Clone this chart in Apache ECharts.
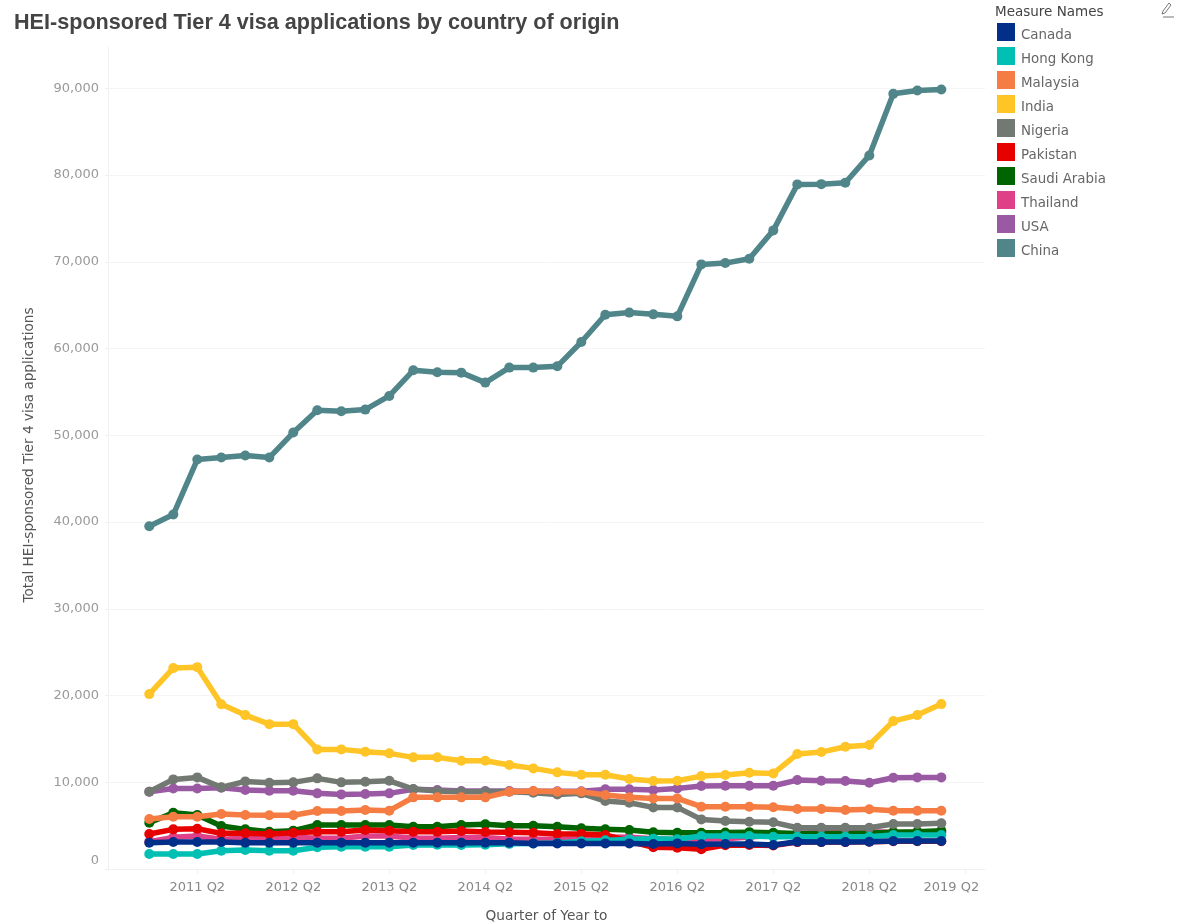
<!DOCTYPE html>
<html>
<head>
<meta charset="utf-8">
<style>html,body{margin:0;padding:0;background:#fff}#c{width:1178px;height:922px;filter:blur(0.5px)}</style>
<script src="https://cdn.jsdelivr.net/npm/echarts@6/dist/echarts.min.js"></script>
</head>
<body>
<div id="c"></div>
<script>
const quarters = ['2010 Q4','2011 Q1','2011 Q2','2011 Q3','2011 Q4','2012 Q1','2012 Q2','2012 Q3','2012 Q4','2013 Q1','2013 Q2','2013 Q3','2013 Q4','2014 Q1','2014 Q2','2014 Q3','2014 Q4','2015 Q1','2015 Q2','2015 Q3','2015 Q4','2016 Q1','2016 Q2','2016 Q3','2016 Q4','2017 Q1','2017 Q2','2017 Q3','2017 Q4','2018 Q1','2018 Q2','2018 Q3','2018 Q4','2019 Q1','2019 Q2'];
const tickLabels = ['2011 Q2','2012 Q2','2013 Q2','2014 Q2','2015 Q2','2016 Q2','2017 Q2','2018 Q2','2019 Q2'];

const canada = [3030,3110,3110,3110,3030,3030,3030,3030,3030,3030,3030,3030,3030,3030,3030,3030,2950,2950,2950,2950,2950,2880,2950,2850,2880,2880,2760,3150,3110,3110,3150,3230,3230,3230];
const hongKong = [1730,1730,1730,2110,2190,2110,2110,2500,2570,2570,2570,2760,2800,2760,2800,2900,2950,3000,3200,3300,3420,3500,3420,3800,3800,3800,3720,3720,3720,3720,3720,3920,3920,3920];
const malaysia = [5760,6030,6030,6340,6220,6190,6190,6680,6680,6800,6720,8260,8260,8260,8260,8910,8990,8910,8910,8530,8260,8140,8140,7180,7180,7180,7110,6910,6910,6800,6880,6720,6720,6720];
const india = [20160,23160,23270,19000,17740,16700,16700,13790,13790,13510,13330,12870,12870,12480,12480,11980,11600,11140,10860,10860,10370,10140,10170,10710,10830,11090,11020,13250,13480,14090,14290,17050,17740,19010];
const nigeria = [8910,10330,10560,9410,10100,9940,9990,10450,9990,10060,10170,9220,8990,8910,8910,8910,8800,8600,8720,7830,7640,7100,7100,5720,5530,5450,5380,4760,4760,4760,4760,5180,5180,5260];
const pakistan = [4030,4570,4640,4110,4110,4030,4180,4300,4300,4490,4420,4300,4300,4380,4260,4230,4180,4030,4030,3920,3200,2500,2460,2270,2750,2780,2700,3100,3100,3100,3150,3200,3200,3200];
const saudiArabia = [5340,6490,6220,4950,4570,4300,4420,5070,5070,5070,5070,4870,4870,5070,5150,4990,4990,4870,4690,4570,4490,4230,4180,4180,4200,4250,4180,4100,4100,4100,4150,4250,4300,4400];
const thailand = [3150,3650,3800,3420,3540,3540,3650,3540,3540,3800,3800,3540,3540,3620,3620,3420,3420,3420,3500,3700,3650,3500,3400,3400,3500,3700,3900,4100,4250,4300,4300,4200,4200,4200];
const usa = [8910,9290,9290,9370,9100,9020,9020,8720,8600,8640,8720,9180,9100,9000,9000,9000,8950,8950,8950,9180,9180,9100,9290,9560,9600,9600,9600,10250,10170,10140,9940,10520,10560,10560];
const china = [39520,40860,47200,47430,47660,47430,50310,52880,52760,52960,54530,57490,57260,57220,56070,57800,57800,57950,60750,63900,64140,63940,63710,69700,69850,70350,73620,78920,78950,79110,82260,89360,89750,89860];

const names = ['Canada','Hong Kong','Malaysia','India','Nigeria','Pakistan','Saudi Arabia','Thailand','USA','China'];
const values = [canada,hongKong,malaysia,india,nigeria,pakistan,saudiArabia,thailand,usa,china];
const colors = ['#012F8A','#00BFB3','#F57C42','#FFC425','#727872','#E60000','#006400','#DF4088','#9A5AA3','#50858A'];

const font = 'DejaVu Sans';
const tickIdx = tickLabels.map(t => quarters.indexOf(t));
const chart = echarts.init(document.getElementById('c'), null, {renderer:'canvas'});
chart.setOption({
  animation:false,
  backgroundColor:'#fff',
  title:[
    {text:'HEI-sponsored Tier 4 visa applications by country of origin',left:9,top:7,textStyle:{fontFamily:'Liberation Sans',fontSize:21.6,fontWeight:'bold',color:'#444'}},
    {text:'Measure Names',left:990,top:0,textStyle:{fontFamily:font,fontSize:13.5,fontWeight:'normal',color:'#444'}}
  ],
  legend:{
    orient:'vertical',left:992,top:18,itemWidth:18,itemHeight:18,itemGap:5,icon:'rect',
    data:names,selectedMode:false,
    formatter:n=>'{a|'+n+'}',
    textStyle:{fontFamily:font,fontSize:13.4,color:'#666',
      rich:{a:{fontFamily:font,fontSize:13.4,color:'#666',padding:[7,0,0,1]}}}
  },
  grid:{left:108,top:47,width:877,height:822,containLabel:false,outerBoundsMode:'none'},
  xAxis:{
    type:'value',min:-1.72,max:34.82,
    name:'Quarter of Year to',nameLocation:'middle',nameGap:40,
    nameTextStyle:{fontFamily:font,fontSize:13.7,color:'#555'},
    axisLine:{show:true,lineStyle:{color:'#f0f0f0'}},
    axisTick:{show:true,length:5,lineStyle:{color:'#f0f0f0'},customValues:tickIdx},
    axisLabel:{
      color:'#888',fontFamily:font,fontSize:13,margin:12,showMinLabel:true,showMaxLabel:true,
      customValues:tickIdx,
      formatter:v=>{const s=quarters[v];return s==='2019 Q2'?'{last|'+s+'}':s;},
      rich:{last:{padding:[0,28,0,0],color:'#888',fontFamily:font,fontSize:13}}
    },
    splitLine:{show:false}
  },
  yAxis:{
    type:'value',min:0,max:94760,interval:10000,
    name:'Total HEI-sponsored Tier 4 visa applications',nameLocation:'middle',nameGap:72,
    nameTextStyle:{fontFamily:font,fontSize:13.6,color:'#555',padding:[0,0,0,6]},
    axisLine:{show:true,onZero:false,lineStyle:{color:'#f0f0f0'}},
    axisTick:{show:true,length:3,lineStyle:{color:'#f0f0f0'}},
    axisLabel:{
      color:'#999',fontFamily:font,fontSize:13,margin:9,showMaxLabel:false,
      formatter:v=>v===0?'{zero|0}':v.toLocaleString('en-US'),
      rich:{zero:{padding:[0,0,16,0],color:'#999',fontFamily:font,fontSize:13}}
    },
    splitLine:{show:true,showMaxLine:false,lineStyle:{color:'#f4f4f4'}}
  },
  series:names.map((n,k)=>({
    name:n,type:'line',z:30-k,
    data:values[k].map((v,i)=>[i,v]),
    symbol:'circle',symbolSize:10,showSymbol:true,
    lineStyle:{width:5.5,color:colors[k]},
    itemStyle:{color:colors[k]},
    emphasis:{disabled:true}
  })),
  graphic:[
    {type:'polyline',x:1161,y:3,shape:{points:[[8,0],[10,2],[4,10],[1,11],[2,8],[8,0]]},style:{fill:'none',stroke:'#777',lineWidth:1}},
    {type:'line',x:1161,y:3,shape:{x1:2,y1:14,x2:13,y2:14},style:{stroke:'#777',lineWidth:1}}
  ]
});
</script>
</body>
</html>
